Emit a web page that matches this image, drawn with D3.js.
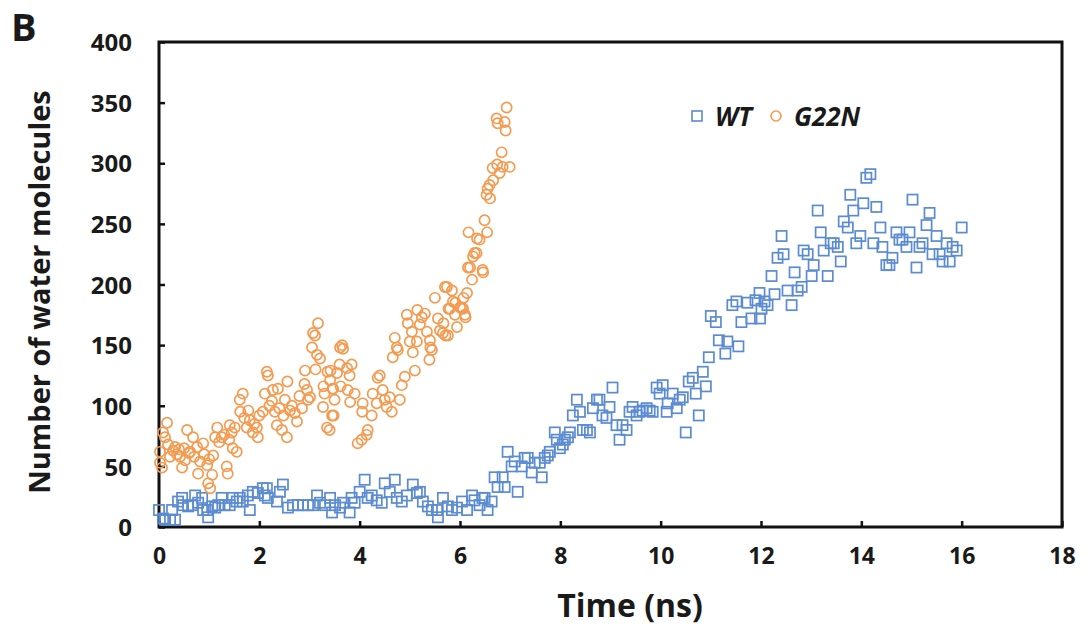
<!doctype html>
<html lang="en">
  <head>
    <meta charset="UTF-8" />
    <title>Number of water molecules</title>
    <script src="https://cdn.jsdelivr.net/npm/d3@7"></script>
    <style>
      body { margin: 0; background: #fff; }
      svg { display: block; }
      .tick-y { font-family: "Open Sans", sans-serif; font-weight: 700; font-size: 24px; fill: #1a1a1a; }
      .tick-x { font-family: "Liberation Sans Narrow", "Open Sans", sans-serif; font-weight: 700; font-size: 23px; fill: #1a1a1a; }
      .title { font-family: "Open Sans", sans-serif; font-weight: 700; fill: #1a1a1a; }
    </style>
  </head>
  <body>
    <svg id="chart" width="1092" height="628"></svg>
  <script>
    // WT series, time (ns) and count
    const wtTime = [0.0,0.08,0.12,0.22,0.32,0.26,0.38,0.46,0.48,0.58,0.66,0.72,0.78,0.86,0.88,0.96,0.98,1.06,1.12,1.18,
      1.25,1.31,1.41,1.47,1.55,1.61,1.67,1.77,1.81,1.87,1.97,2.07,2.15,2.11,2.17,2.35,2.41,2.47,2.57,2.67,
      2.77,2.87,2.97,3.07,3.15,3.21,3.31,3.41,3.45,3.51,3.61,3.67,3.80,3.84,3.90,4.00,4.10,4.16,4.24,4.34,
      4.44,4.50,4.60,4.70,4.74,4.84,4.94,5.06,5.14,5.20,5.26,5.36,5.44,5.54,5.56,5.66,5.76,5.84,5.94,6.04,
      6.14,6.24,6.29,6.39,6.45,6.49,6.55,6.63,6.69,6.75,6.85,6.89,6.95,7.03,7.09,7.15,7.23,7.29,7.35,7.43,
      7.49,7.59,7.63,7.69,7.75,7.79,7.89,7.93,7.99,8.05,8.09,8.15,8.19,8.25,8.33,8.39,8.45,8.53,8.59,8.65,
      8.73,8.78,8.84,8.92,8.98,9.04,9.12,9.18,9.24,9.32,9.38,9.44,9.52,9.58,9.64,9.72,9.78,9.84,9.92,9.98,
      10.04,10.12,10.14,10.24,10.32,10.38,10.44,10.50,10.56,10.64,10.70,10.76,10.84,10.90,10.96,11.00,11.10,11.16,11.29,11.33,
      11.43,11.51,11.55,11.61,11.73,11.81,11.89,11.97,12.01,12.07,12.13,11.98,12.21,12.27,12.33,12.41,12.45,12.53,12.61,12.67,
      12.73,12.81,12.85,12.93,13.01,13.05,13.13,13.19,13.25,13.33,13.39,13.45,13.53,13.59,13.65,13.73,13.78,13.84,13.90,13.98,
      14.04,14.10,14.18,14.24,14.30,14.38,14.42,14.50,14.56,14.62,14.70,14.76,14.82,14.90,14.96,15.02,15.10,15.16,15.22,15.30,
      15.36,15.42,15.50,15.56,15.62,15.70,15.76,15.82,15.90,16.00];
    const wtCount = [14,7,6,6,6,14,21,24,18,17,18,26,20,24,14,14,8,17,16,18,
      24,18,18,24,21,24,21,26,14,29,28,32,32,26,24,21,29,35,16,18,
      18,18,18,18,26,20,18,24,12,18,16,20,12,24,20,29,39,24,26,22,
      20,36,29,39,24,21,26,35,28,29,21,17,14,14,8,24,17,14,16,21,
      14,26,22,18,24,24,14,21,41,33,41,33,62,50,54,29,50,57,57,45,
      53,53,41,57,59,62,78,72,65,68,72,74,78,92,105,95,80,80,78,98,
      105,105,92,90,99,115,84,72,84,80,95,99,92,95,96,98,96,95,115,110,
      117,95,102,110,98,105,107,78,120,123,110,92,128,116,140,174,169,154,143,153,
      183,186,149,169,185,172,187,193,180,186,183,172,207,192,222,240,225,195,183,210,
      195,198,228,225,207,216,261,243,228,207,234,234,231,219,252,247,274,261,234,240,
      267,288,291,234,264,247,231,216,216,222,243,237,237,231,243,270,214,231,234,249,
      259,225,240,225,219,234,219,231,228,247];

    // G22N series
    const g22nTime = [0.02,0.02,0.06,0.12,0.16,0.08,0.28,0.22,0.42,0.46,0.56,0.68,0.62,0.76,0.82,0.78,0.88,0.98,1.02,0.96,
      1.06,1.08,1.16,1.12,1.25,1.35,1.37,1.41,1.47,1.55,1.61,1.67,1.51,1.62,1.75,1.81,1.87,1.97,1.95,2.07,
      2.15,2.17,2.11,2.27,2.37,2.31,2.35,2.45,2.55,2.56,2.51,2.61,2.71,2.75,2.91,2.95,2.97,3.01,3.05,3.07,
      3.11,3.17,3.15,3.21,3.27,3.35,3.45,3.28,3.36,3.41,3.46,3.61,
      0.32,0.36,0.50,0.52,0.70,0.90,1.20,1.30,1.45,1.70,1.90,2.00,2.20,2.40,2.65,2.80,2.85,3.30,3.50,
      0.18,0.40,0.60,1.00,1.40,1.78,2.25,2.48,2.90,3.12,
      3.65,3.67,3.42,3.55,3.60,3.75,3.84,3.80,3.47,3.62,3.76,3.90,3.81,3.48,3.40,3.96,4.04,4.14,4.16,4.06,
      4.05,4.24,4.26,4.34,4.40,4.36,4.46,4.50,4.60,4.64,4.54,4.80,4.84,4.90,4.70,4.66,4.76,4.74,4.94,4.96,
      5.04,5.00,5.06,5.14,5.10,5.15,5.24,5.30,5.20,5.34,5.40,5.41,5.44,5.39,5.50,5.56,5.60,5.66,5.76,5.70,
      5.84,5.77,5.86,5.90,5.94,6.00,6.06,6.10,6.14,6.16,6.24,6.26,6.33,6.45,
      6.93,6.73,6.75,6.89,6.91,6.83,6.65,6.74,6.85,6.99,6.79,6.66,6.59,6.55,6.53,6.60,6.49,6.17,6.54,6.34,
      6.39,6.29,6.20,6.46,6.07,5.91,5.80,6.04,6.11,5.74,5.67,5.71];
    const g22nCount = [62,53,49,74,86,78,63,58,58,49,80,74,62,66,54,44,69,36,32,51,
      43,59,82,74,74,50,44,84,65,62,105,110,82,95,82,88,78,74,82,95,
      128,125,110,113,114,95,84,80,74,120,105,96,94,87,129,113,105,107,148,160,
      158,168,142,139,99,82,92,116,128,121,114,148,
      66,60,65,55,58,60,70,76,78,90,85,92,100,98,100,108,98,110,105,
      68,64,61,56,72,96,104,92,118,130,
      150,147,129,127,134,131,134,125,114,116,113,110,103,92,80,69,72,76,80,102,
      95,92,110,102,125,123,113,105,107,95,99,105,117,124,156,140,146,148,175,168,
      161,153,144,153,129,179,173,176,167,161,154,148,146,138,189,172,162,160,158,198,
      195,180,186,175,165,181,180,175,193,214,204,223,226,212,
      346,337,333,334,327,309,296,299,297,297,292,286,282,279,274,271,253,243,243,238,
      237,226,214,210,189,185,180,181,173,198,168,158];

    const xTicks = [0, 2, 4, 6, 8, 10, 12, 14, 16, 18];
    const yTicks = [0, 50, 100, 150, 200, 250, 300, 350, 400];

    const wtColor = "#5b8bd0", g22nColor = "#f59a4f";
    const svg = d3.select("#chart");
    const x = d3.scaleLinear().domain([0, 18]).range([159, 1062]);
    const y = d3.scaleLinear().domain([0, 400]).range([527, 42]);

    // axes with inward ticks
    const xAxis = svg.append("g").attr("transform", `translate(0,${y(0)})`)
      .call(d3.axisBottom(x).tickValues(xTicks).tickSizeInner(-6).tickSizeOuter(0).tickPadding(21));
    const yAxis = svg.append("g").attr("transform", `translate(${x(0)},0)`)
      .call(d3.axisLeft(y).tickValues(yTicks).tickSizeInner(-6).tickSizeOuter(0).tickPadding(27));
    [xAxis, yAxis].forEach(g => {
      g.select(".domain").remove();
      g.selectAll(".tick line").attr("stroke", "#111").attr("stroke-width", 2.5);
    });
    xAxis.selectAll("text").attr("class", "tick-x");
    yAxis.selectAll("text").attr("class", "tick-y").attr("dy", "0.36em");

    svg.append("rect")
      .attr("x", x(0)).attr("y", y(400))
      .attr("width", x(18) - x(0)).attr("height", y(0) - y(400))
      .attr("fill", "none").attr("stroke", "#111").attr("stroke-width", 3);

    const plot = svg.append("g");
    plot.selectAll(".wt").data(wtTime).join("rect")
      .attr("class", "wt")
      .attr("x", d => x(d) - 5.1).attr("y", (d, i) => y(wtCount[i]) - 5.1)
      .attr("width", 10.2).attr("height", 10.2)
      .attr("fill", "none").attr("stroke", wtColor).attr("stroke-width", 1.7);

    plot.selectAll(".g22n").data(g22nTime).join("circle")
      .attr("class", "g22n")
      .attr("cx", d => x(d)).attr("cy", (d, i) => y(g22nCount[i]))
      .attr("r", 5.1)
      .attr("fill", "none").attr("stroke", g22nColor).attr("stroke-width", 1.7);

    // legend
    const leg = svg.append("g").attr("transform", "translate(697,116)");
    leg.append("rect").attr("x", -5).attr("y", -5).attr("width", 10).attr("height", 10)
      .attr("fill", "none").attr("stroke", wtColor).attr("stroke-width", 1.6);
    leg.append("text").attr("class", "title").attr("x", 18).attr("y", 10)
      .attr("font-size", 26).attr("font-style", "italic").text("WT");
    leg.append("circle").attr("cx", 79).attr("cy", 0).attr("r", 5)
      .attr("fill", "none").attr("stroke", g22nColor).attr("stroke-width", 1.6);
    leg.append("text").attr("class", "title").attr("x", 97).attr("y", 10)
      .attr("font-size", 26).attr("font-style", "italic").text("G22N");

    // titles
    svg.append("text").attr("class", "title").attr("x", 630).attr("y", 617)
      .attr("text-anchor", "middle").attr("font-size", 32).text("Time (ns)");
    svg.append("text").attr("class", "title")
      .attr("transform", "translate(50,292) rotate(-90)")
      .attr("text-anchor", "middle").attr("font-size", 29).text("Number of water molecules");
    svg.append("text").attr("class", "title").attr("x", 11).attr("y", 41)
      .attr("font-size", 38).text("B");
  </script>
  </body>
</html>
